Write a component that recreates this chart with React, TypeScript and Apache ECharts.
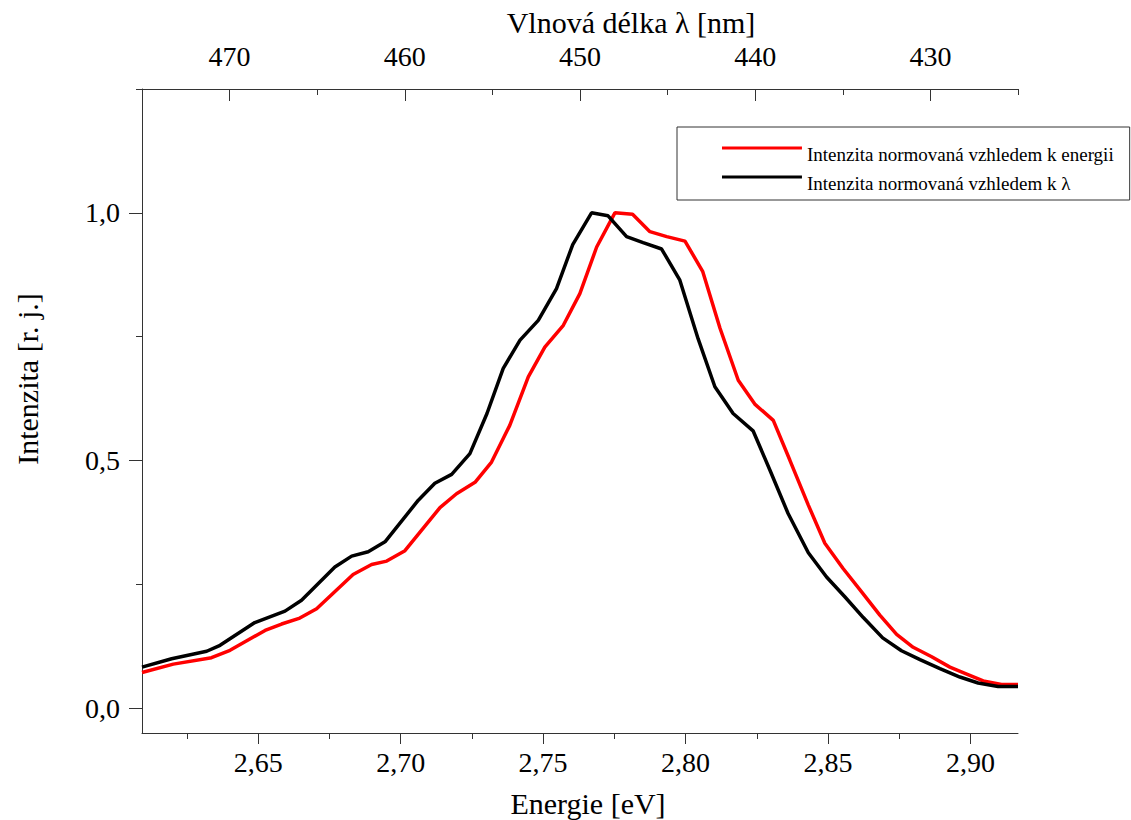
import React, { useEffect, useRef } from "react";
import * as echarts from "echarts";

// Energy axis [eV] and intensity values
const energyRed = [
  2.6092, 2.6202, 2.6336, 2.6401, 2.6524, 2.6582, 2.6646, 2.6705, 2.6833, 2.6898,
  2.6951, 2.7015, 2.7138, 2.7196, 2.7261, 2.7319, 2.7383, 2.7448, 2.7506, 2.7571,
  2.7629, 2.7688, 2.7752, 2.7814, 2.7875, 2.7934, 2.7998, 2.806, 2.8121, 2.8185,
  2.8243, 2.8308, 2.8366, 2.8431, 2.8489, 2.8553, 2.8618, 2.8682, 2.8741, 2.8799,
  2.8864, 2.8928, 2.8987, 2.9045, 2.9109, 2.9167,
];
const intensityRed = [
  0.072, 0.089, 0.102, 0.117, 0.157, 0.17, 0.182, 0.201, 0.27, 0.29,
  0.297, 0.318, 0.405, 0.433, 0.456, 0.497, 0.571, 0.669, 0.729, 0.773,
  0.837, 0.931, 1.0, 0.997, 0.962, 0.952, 0.943, 0.882, 0.767, 0.662,
  0.614, 0.581, 0.501, 0.41, 0.333, 0.282, 0.235, 0.188, 0.149, 0.123,
  0.104, 0.083, 0.069, 0.055, 0.048, 0.048,
];
const energyBlack = [
  2.6092, 2.6196, 2.6319, 2.6366, 2.6488, 2.6594, 2.6652, 2.6769, 2.6828, 2.6886,
  2.6945, 2.7062, 2.712, 2.7179, 2.7243, 2.7303, 2.736, 2.7419, 2.7483, 2.7547,
  2.7604, 2.767, 2.7728, 2.7793, 2.7851, 2.7916, 2.798, 2.8044, 2.8103, 2.8167,
  2.8237, 2.8296, 2.836, 2.8431, 2.8495, 2.8559, 2.8624, 2.8692, 2.8758, 2.8823,
  2.8893, 2.8963, 2.9027, 2.9097, 2.9167,
];
const intensityBlack = [
  0.083, 0.1, 0.115, 0.127, 0.173, 0.196, 0.218, 0.285, 0.307, 0.316,
  0.336, 0.42, 0.454, 0.472, 0.514, 0.595, 0.686, 0.743, 0.783, 0.847,
  0.936, 1.0, 0.994, 0.952, 0.94, 0.927, 0.864, 0.746, 0.649, 0.595,
  0.56, 0.481, 0.393, 0.314, 0.265, 0.225, 0.183, 0.142, 0.116, 0.098,
  0.08, 0.063, 0.051, 0.044, 0.044,
];

const seriesNames = [
  "Intenzita normovaná vzhledem k energii",
  "Intenzita normovaná vzhledem k λ",
];
const seriesColors = ["#ff0000", "#000000"];

const energyMajorTicks = [2.65, 2.7, 2.75, 2.8, 2.85, 2.9];
const energyMinorTicks = [2.625, 2.675, 2.725, 2.775, 2.825, 2.875];
const wavelengthMajorTicks = [430, 440, 450, 460, 470];
const wavelengthMinorTicks = [425, 435, 445, 455, 465];
const intensityMajorTicks = [0, 0.5, 1.0];
const intensityMinorTicks = [0.25, 0.75, 1.25];

const energyRange = [2.6092, 2.9167];
const wavelengthRange = [425, 475];
const intensityRange = [-0.05, 1.25];

const FONT = "'Liberation Serif', 'Times New Roman', serif";
const AXIS_COLOR = "#333";
// legend icon: a 3px bar at the top of a 16px-high box (text sits below the line)
const LEGEND_ICON = "path://M0,0L80,0L80,3L0,3ZM0,16L80,16L80,16.01L0,16.01Z";

const comma = (v: number, d: number) => v.toFixed(d).replace(".", ",");

export default function App() {
  const ref = useRef<HTMLDivElement>(null);

  useEffect(() => {
    if (!ref.current) return;
    const chart = echarts.init(ref.current, null, { renderer: "svg" });

    const zip = (xs: number[], ys: number[]) => xs.map((x, i) => [x, ys[i]]);

    const lineAxis = { show: true, lineStyle: { color: AXIS_COLOR, width: 1 } };

    const option: any = {
      animation: false,
      backgroundColor: "#ffffff",
      textStyle: { fontFamily: FONT },
      grid: {
        left: 142,
        right: 113,
        top: 89,
        bottom: 87,
        containLabel: false,
        outerBoundsMode: "none",
      },
      legend: {
        orient: "vertical",
        left: 677,
        top: 127,
        data: seriesNames,
        icon: LEGEND_ICON,
        itemWidth: 80,
        itemHeight: 16,
        itemGap: 10,
        padding: [18, 16, 7, 45],
        borderColor: AXIS_COLOR,
        borderWidth: 1,
        textStyle: {
          fontFamily: FONT,
          fontSize: 19,
          color: "#000",
        },
      },
      xAxis: [
        {
          type: "value",
          position: "bottom",
          min: energyRange[0],
          max: energyRange[1],
          axisLine: { ...lineAxis, onZero: false },
          splitLine: { show: false },
          axisTick: {
            show: true,
            inside: false,
            length: 11,
            customValues: energyMajorTicks,
            lineStyle: { color: AXIS_COLOR },
          },
          axisLabel: {
            customValues: energyMajorTicks,
            formatter: (v: number) => comma(v, 2),
            fontFamily: FONT,
            fontSize: 28,
            color: "#000",
            margin: 15,
          },
          name: "Energie [eV]",
          nameLocation: "middle",
          nameGap: 55,
          nameTextStyle: {
            fontFamily: FONT,
            fontSize: 30,
            color: "#000",
            padding: [0, 0, 0, 16],
          },
        },
        {
          type: "value",
          position: "bottom",
          min: energyRange[0],
          max: energyRange[1],
          axisLine: { show: false, onZero: false },
          splitLine: { show: false },
          axisTick: {
            show: true,
            inside: false,
            length: 6,
            customValues: energyMinorTicks,
            lineStyle: { color: AXIS_COLOR },
          },
          axisLabel: { show: false },
        },
        {
          type: "value",
          position: "top",
          inverse: true,
          min: wavelengthRange[0],
          max: wavelengthRange[1],
          axisLine: { ...lineAxis, onZero: false },
          splitLine: { show: false },
          axisTick: {
            show: true,
            inside: true,
            length: 12,
            customValues: wavelengthMajorTicks,
            lineStyle: { color: AXIS_COLOR },
          },
          axisLabel: {
            customValues: wavelengthMajorTicks,
            formatter: (v: number) => String(v),
            fontFamily: FONT,
            fontSize: 28,
            color: "#000",
            margin: 19,
          },
          name: "Vlnová délka λ [nm]",
          nameLocation: "middle",
          nameGap: 52,
          nameTextStyle: {
            fontFamily: FONT,
            fontSize: 30,
            color: "#000",
            padding: [0, 0, 0, 102],
          },
        },
        {
          type: "value",
          position: "top",
          inverse: true,
          min: wavelengthRange[0],
          max: wavelengthRange[1],
          axisLine: { show: false, onZero: false },
          splitLine: { show: false },
          axisTick: {
            show: true,
            inside: true,
            length: 6,
            customValues: wavelengthMinorTicks,
            lineStyle: { color: AXIS_COLOR },
          },
          axisLabel: { show: false },
        },
      ],
      yAxis: [
        {
          type: "value",
          position: "left",
          min: intensityRange[0],
          max: intensityRange[1],
          axisLine: { ...lineAxis, onZero: false },
          splitLine: { show: false },
          axisTick: {
            show: true,
            inside: false,
            length: 13,
            customValues: intensityMajorTicks,
            lineStyle: { color: AXIS_COLOR },
          },
          axisLabel: {
            customValues: intensityMajorTicks,
            formatter: (v: number) => comma(v, 1),
            fontFamily: FONT,
            fontSize: 28,
            color: "#000",
            margin: 22,
          },
          name: "Intenzita [r. j.]",
          nameLocation: "middle",
          nameGap: 100,
          nameTextStyle: {
            fontFamily: FONT,
            fontSize: 30,
            color: "#000",
            padding: [0, 0, 0, 64],
          },
        },
        {
          type: "value",
          position: "left",
          min: intensityRange[0],
          max: intensityRange[1],
          axisLine: { show: false, onZero: false },
          splitLine: { show: false },
          axisTick: {
            show: true,
            inside: false,
            length: 6,
            customValues: intensityMinorTicks,
            lineStyle: { color: AXIS_COLOR },
          },
          axisLabel: { show: false },
        },
      ],
      series: [
        {
          name: seriesNames[0],
          type: "line",
          xAxisIndex: 0,
          yAxisIndex: 0,
          data: zip(energyRed, intensityRed),
          showSymbol: false,
          symbol: "none",
          color: seriesColors[0],
          itemStyle: { color: seriesColors[0] },
          lineStyle: { color: seriesColors[0], width: 3.5 },
          clip: true,
        },
        {
          name: seriesNames[1],
          type: "line",
          xAxisIndex: 0,
          yAxisIndex: 0,
          data: zip(energyBlack, intensityBlack),
          showSymbol: false,
          symbol: "none",
          color: seriesColors[1],
          itemStyle: { color: seriesColors[1] },
          lineStyle: { color: seriesColors[1], width: 3.5 },
          clip: true,
        },
      ],
    };

    chart.setOption(option);
    return () => chart.dispose();
  }, []);

  return (
    <div
      ref={ref}
      style={{
        position: "fixed",
        left: 0,
        top: 0,
        width: 1131,
        height: 820,
        background: "#fff",
      }}
    />
  );
}
